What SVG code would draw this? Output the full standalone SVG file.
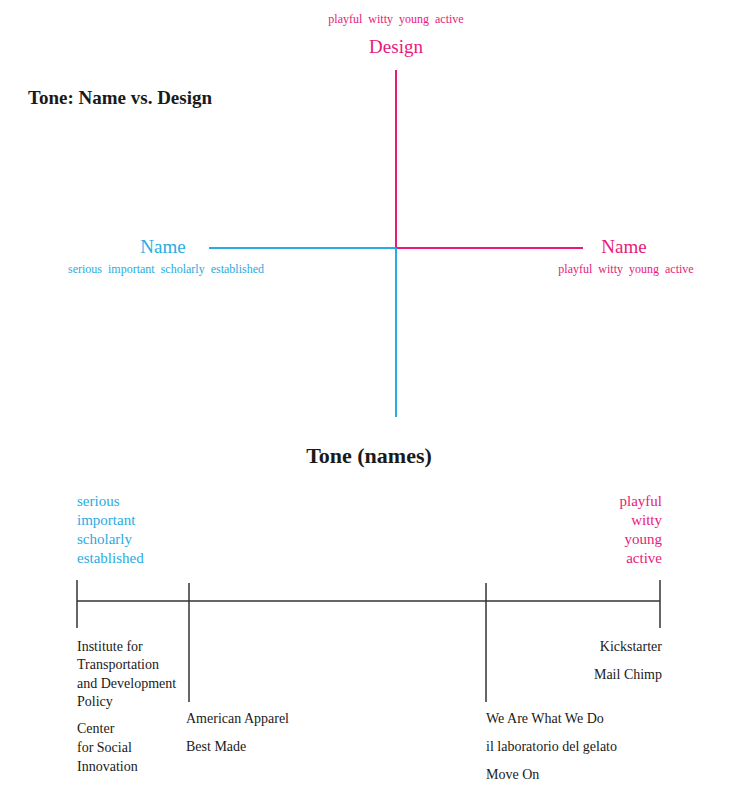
<svg xmlns="http://www.w3.org/2000/svg" width="740" height="800" viewBox="0 0 740 800">
<style>
text{font-family:"Liberation Serif","DejaVu Serif",serif;}
.pk{fill:#e8197a;}
.bl{fill:#29abe2;}
.bk{fill:#1a1a1a;}
.ax{font-size:19px;}
.sm{font-size:12px;}
.ls{font-size:15px;}
.it{font-size:14px;fill:#1a1a1a;}
.pl{stroke:#e8197a;stroke-width:2;fill:none;}
.bll{stroke:#29abe2;stroke-width:2;fill:none;}
.sc{stroke:#333;stroke-width:1.5;fill:none;}
</style>
<rect width="740" height="800" fill="#fff"/>
<text x="28" y="104" class="bk" font-size="19" font-weight="bold">Tone: Name vs. Design</text>
<g id="connectors">
<line class="pl" x1="396" y1="70" x2="396" y2="248"/>
<line class="pl" x1="396" y1="248" x2="583" y2="248"/>
<line class="bll" x1="209" y1="248" x2="396" y2="248"/>
<line class="bll" x1="396" y1="248" x2="396" y2="417"/>
</g>
<g id="design">
<text x="396" y="23" class="pk sm" text-anchor="middle" word-spacing="3">playful witty young active</text>
<text x="396" y="53" class="pk ax" text-anchor="middle">Design</text>
</g>
<g id="name-left">
<text x="163" y="253" class="bl ax" text-anchor="middle">Name</text>
<text x="166" y="273" class="bl sm" text-anchor="middle" word-spacing="3">serious important scholarly established</text>
</g>
<g id="name-right">
<text x="624" y="253" class="pk ax" text-anchor="middle">Name</text>
<text x="626" y="273" class="pk sm" text-anchor="middle" word-spacing="3">playful witty young active</text>
</g>
<text x="369" y="463" class="bk" font-size="22" font-weight="bold" text-anchor="middle">Tone (names)</text>
<g id="scale-left-label" class="bl ls">
<text x="77" y="506">serious</text>
<text x="77" y="525">important</text>
<text x="77" y="544">scholarly</text>
<text x="77" y="563">established</text>
</g>
<g id="scale-right-label" class="pk ls" text-anchor="end">
<text x="662" y="506">playful</text>
<text x="662" y="525">witty</text>
<text x="662" y="544">young</text>
<text x="662" y="563">active</text>
</g>
<g id="scale">
<line class="sc" x1="77" y1="601" x2="660" y2="601"/>
<line class="sc" x1="77" y1="580" x2="77" y2="628"/>
<line class="sc" x1="189" y1="583" x2="189" y2="702"/>
<line class="sc" x1="486" y1="583" x2="486" y2="702"/>
<line class="sc" x1="660" y1="580" x2="660" y2="628"/>
</g>
<g id="group-serious">
<text x="77" y="651" class="it">Institute for</text>
<text x="77" y="669" class="it">Transportation</text>
<text x="77" y="688" class="it">and Development</text>
<text x="77" y="706" class="it">Policy</text>
<text x="77" y="733" class="it">Center</text>
<text x="77" y="752" class="it">for Social</text>
<text x="77" y="771" class="it">Innovation</text>
</g>
<g id="group-mid-left">
<text x="186" y="723" class="it">American Apparel</text>
<text x="186" y="751" class="it">Best Made</text>
</g>
<g id="group-mid-right">
<text x="486" y="723" class="it">We Are What We Do</text>
<text x="486" y="751" class="it">il laboratorio del gelato</text>
<text x="486" y="779" class="it">Move On</text>
</g>
<g id="group-playful">
<text x="662" y="651" class="it" text-anchor="end">Kickstarter</text>
<text x="662" y="679" class="it" text-anchor="end">Mail Chimp</text>
</g>
</svg>
